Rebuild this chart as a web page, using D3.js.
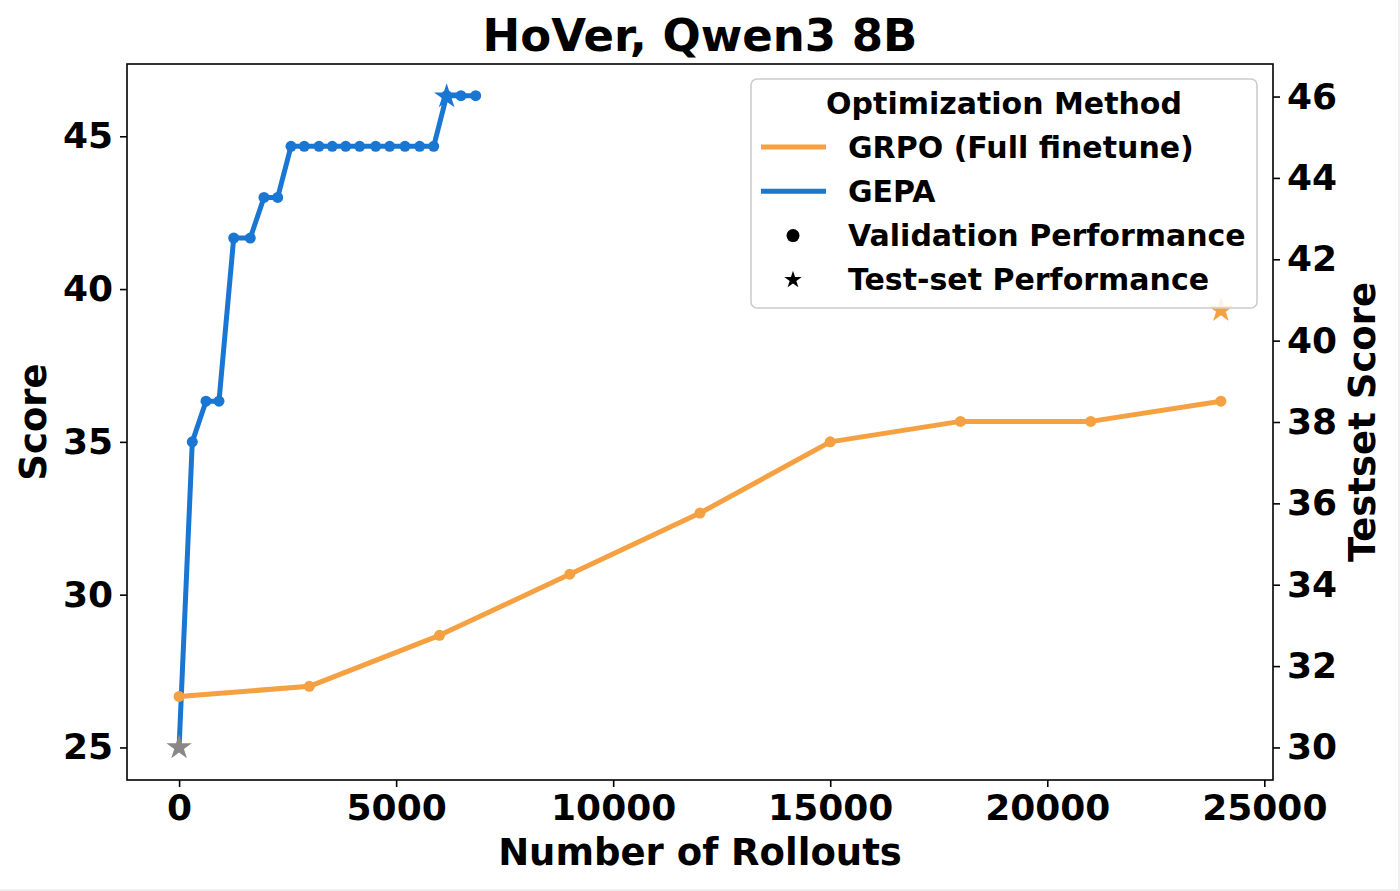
<!DOCTYPE html>
<html>
<head>
<meta charset="utf-8">
<script src="https://cdn.jsdelivr.net/npm/d3@7"></script>
<style>
  body { margin: 0; background: #f0f0f0; }
  svg { display: block; background: #fff; }
  text { font-family: "DejaVu Sans", sans-serif; font-weight: bold; }
</style>
</head>
<body>
<div id="chart"></div>
<script>
// data
var grpoRollouts = [0, 3000, 6000, 9000, 12000, 15000, 18000, 21000, 24000];
var grpoVal = [26.67, 27.0, 28.67, 30.67, 32.67, 35.0, 35.67, 35.67, 36.33];

var gepaRollouts = [0, 304, 620, 919, 1258, 1640, 1956, 2271, 2578, 2884, 3223,
  3529, 3838, 4160, 4529, 4851, 5204, 5542, 5865, 6164, 6494, 6832];
var gepaVal = [25, 35, 36.33, 36.33, 41.67, 41.67, 43, 43, 44.67, 44.67, 44.67,
  44.67, 44.67, 44.67, 44.67, 44.67, 44.67, 44.67, 44.67, 46.33, 46.33, 46.33];

// test-set points (right axis)
var testNames = ["Baseline", "GEPA", "GRPO (Full finetune)"];
var testRollouts = [0, 6164, 24000];
var testScores = [30, 46, 40.75];

var xTicks = [0, 5000, 10000, 15000, 20000, 25000];
var yLeftTicks = [25, 30, 35, 40, 45];
var yRightTicks = [30, 32, 34, 36, 38, 40, 42, 44, 46];

var colors = { grpo: "#f5a142", gepa: "#1976d2", base: "#888888" };
var testColors = [colors.base, colors.gepa, colors.grpo];

// svg area
var svgWidth = 1398;
var svgHeight = 889;
var plot = { left: 127, right: 1273, top: 64, bottom: 780 };

var svg = d3.select("#chart").append("svg")
  .attr("width", svgWidth)
  .attr("height", svgHeight);

// scales (matplotlib style 5% margins)
var xScale = d3.scaleLinear().domain([-1200, 25200]).range([plot.left, plot.right]);
var yLeft = d3.scaleLinear().domain([23.935, 47.365]).range([plot.bottom, plot.top]);
var yRight = d3.scaleLinear().domain([29.2, 46.8]).range([plot.bottom, plot.top]);

// axes
var xAxis = svg.append("g")
  .attr("transform", `translate(0, ${plot.bottom})`)
  .call(d3.axisBottom(xScale).tickValues(xTicks).tickFormat(d3.format("d")).tickSize(7).tickPadding(7));
var leftAxis = svg.append("g")
  .attr("transform", `translate(${plot.left}, 0)`)
  .call(d3.axisLeft(yLeft).tickValues(yLeftTicks).tickSize(7).tickPadding(7));
var rightAxis = svg.append("g")
  .attr("transform", `translate(${plot.right}, 0)`)
  .call(d3.axisRight(yRight).tickValues(yRightTicks).tickSize(7).tickPadding(7));

[xAxis, leftAxis, rightAxis].forEach(function(ax) {
  ax.select(".domain").remove();
  ax.selectAll(".tick line").attr("stroke", "#000").attr("stroke-width", 1.6);
  ax.selectAll(".tick text").attr("font-size", 36).attr("fill", "#000")
    .style("font-family", "DejaVu Sans").style("font-weight", "bold");
});

// frame
svg.append("rect")
  .attr("x", plot.left).attr("y", plot.top)
  .attr("width", plot.right - plot.left).attr("height", plot.bottom - plot.top)
  .attr("fill", "none").attr("stroke", "#000").attr("stroke-width", 1.6);

// GEPA line
var gepaData = gepaRollouts.map((d, i) => ({ x: d, y: gepaVal[i] }));
var grpoData = grpoRollouts.map((d, i) => ({ x: d, y: grpoVal[i] }));

var line = d3.line().x(d => xScale(d.x)).y(d => yLeft(d.y));

svg.append("path").datum(gepaData)
  .attr("d", line).attr("fill", "none")
  .attr("stroke", colors.gepa).attr("stroke-width", 5).attr("stroke-linejoin", "round");
svg.selectAll(".gepaDot").data(gepaData.slice(1)).enter().append("circle")
  .attr("cx", d => xScale(d.x)).attr("cy", d => yLeft(d.y))
  .attr("r", 5.5).attr("fill", colors.gepa);

// GRPO line
svg.append("path").datum(grpoData)
  .attr("d", line).attr("fill", "none")
  .attr("stroke", colors.grpo).attr("stroke-width", 5).attr("stroke-linejoin", "round");
svg.selectAll(".grpoDot").data(grpoData).enter().append("circle")
  .attr("cx", d => xScale(d.x)).attr("cy", d => yLeft(d.y))
  .attr("r", 5.5).attr("fill", colors.grpo);

// test-set stars
var star = d3.symbol().type(d3.symbolStar).size(200);
svg.selectAll(".testStar").data(testRollouts).enter().append("path")
  .attr("d", star)
  .attr("transform", (d, i) => `translate(${xScale(d)}, ${yRight(testScores[i])})`)
  .attr("fill", (d, i) => testColors[i]);

// title and axis labels
svg.append("text").attr("x", (plot.left + plot.right) / 2).attr("y", 51)
  .attr("text-anchor", "middle")
  .attr("font-size", 45).text("HoVer, Qwen3 8B");
svg.append("text").attr("x", (plot.left + plot.right) / 2).attr("y", 865)
  .attr("text-anchor", "middle")
  .attr("font-size", 37).text("Number of Rollouts");
svg.append("text")
  .attr("transform", `translate(33, ${(plot.top + plot.bottom) / 2}) rotate(-90)`)
  .attr("text-anchor", "middle").attr("dominant-baseline", "central")
  .attr("font-size", 37).text("Score");
svg.append("text")
  .attr("transform", `translate(1362, ${(plot.top + plot.bottom) / 2}) rotate(-90)`)
  .attr("text-anchor", "middle").attr("dominant-baseline", "central")
  .attr("font-size", 37).text("Testset Score");

// legend
var legend = svg.append("g").attr("transform", "translate(751, 79)");
legend.append("rect")
  .attr("width", 506).attr("height", 229).attr("rx", 6)
  .attr("fill", "#fff").attr("fill-opacity", 0.85)
  .attr("stroke", "#cccccc").attr("stroke-width", 1.6);
legend.append("text").attr("x", 253).attr("y", 24)
  .attr("text-anchor", "middle").attr("dominant-baseline", "central")
  .attr("font-size", 30).text("Optimization Method");

var legendItems = [
  { label: "GRPO (Full finetune)", kind: "line", color: colors.grpo },
  { label: "GEPA", kind: "line", color: colors.gepa },
  { label: "Validation Performance", kind: "dot", color: "#000" },
  { label: "Test-set Performance", kind: "star", color: "#000" }
];
legendItems.forEach(function(item, i) {
  var y = 68 + i * 44.3;
  if (item.kind === "line") {
    legend.append("line").attr("x1", 10).attr("x2", 75).attr("y1", y).attr("y2", y)
      .attr("stroke", item.color).attr("stroke-width", 5);
  } else if (item.kind === "dot") {
    legend.append("circle").attr("cx", 42).attr("cy", y).attr("r", 6.5).attr("fill", item.color);
  } else {
    legend.append("path").attr("d", d3.symbol().type(d3.symbolStar).size(95))
      .attr("transform", `translate(42, ${y})`).attr("fill", item.color);
  }
  legend.append("text").attr("x", 97).attr("y", y)
    .attr("dominant-baseline", "central").attr("font-size", 30).text(item.label);
});
</script>
</body>
</html>
